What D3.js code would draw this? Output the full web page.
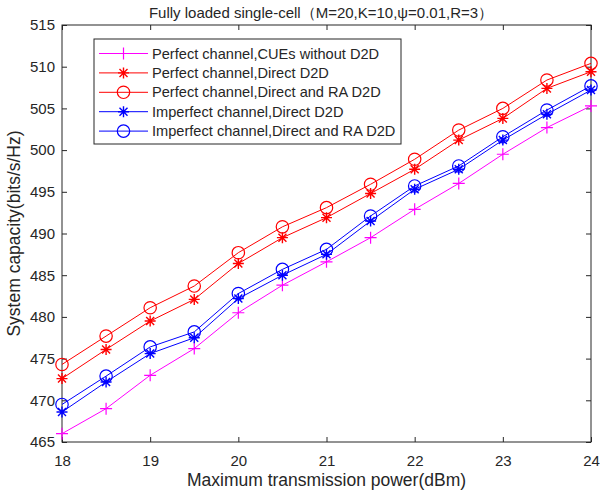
<!DOCTYPE html>
<html>
<head>
<meta charset="utf-8">
<script src="https://cdn.jsdelivr.net/npm/d3@7"></script>
<style>
  body { margin: 0; background: #fff; }
  text { font-family: "Liberation Sans", Arial, sans-serif; fill: #262626; }
</style>
</head>
<body>
<svg id="chart" width="600" height="498"></svg>
<script>
const powers = [18, 18.5, 19, 19.5, 20, 20.5, 21, 21.5, 22, 22.5, 23, 23.5, 24];
const x_ticks = [18, 19, 20, 21, 22, 23, 24];
const y_ticks = [465, 470, 475, 480, 485, 490, 495, 500, 505, 510, 515];

const perfect_no_d2d = [466.0, 469.0, 473.0, 476.2, 480.5, 483.8, 486.6, 489.5, 492.9, 496.0, 499.5, 502.7, 505.3];
const perfect_direct = [472.6, 476.1, 479.5, 482.1, 486.4, 489.5, 491.9, 494.8, 497.7, 501.2, 503.8, 507.4, 509.4];
const perfect_direct_ra = [474.3, 477.7, 481.1, 483.7, 487.7, 490.8, 493.1, 495.9, 498.9, 502.4, 505.0, 508.4, 510.4];
const imperfect_direct = [468.6, 472.2, 475.6, 477.5, 482.2, 485.0, 487.5, 491.5, 495.3, 497.7, 501.2, 504.3, 507.2];
const imperfect_direct_ra = [469.5, 472.9, 476.4, 478.2, 482.8, 485.7, 488.1, 492.1, 495.7, 498.1, 501.6, 504.8, 507.7];

const series = [
    {name: 'Perfect channel,CUEs without D2D', color: '#ff00ff', marker: 'plus', values: perfect_no_d2d},
    {name: 'Perfect channel,Direct D2D', color: '#ff0000', marker: 'star', values: perfect_direct},
    {name: 'Perfect channel,Direct and RA D2D', color: '#ff0000', marker: 'circle', values: perfect_direct_ra},
    {name: 'Imperfect channel,Direct D2D', color: '#0000ff', marker: 'star', values: imperfect_direct},
    {name: 'Imperfect channel,Direct and RA D2D', color: '#0000ff', marker: 'circle', values: imperfect_direct_ra}
];

const svg = d3.select('#chart');
const margin = {top: 25, right: 9, bottom: 56, left: 62};
const width = 600 - margin.left - margin.right;
const height = 498 - margin.top - margin.bottom;

const x = d3.scaleLinear().domain([18, 24]).range([0, width]);
const y = d3.scaleLinear().domain([465, 515]).range([height, 0]);

const g = svg.append('g').attr('transform', 'translate(' + margin.left + ',' + margin.top + ')');

// box axes with inward ticks
const axis_color = '#262626';
function style_axis(sel, show_labels) {
    sel.select('.domain').remove();
    sel.selectAll('.tick line').attr('stroke', axis_color).attr('stroke-width', 1);
    sel.selectAll('.tick text').style('font-size', '15px').attr('fill', axis_color);
    if (!show_labels) sel.selectAll('.tick text').remove();
}
g.append('g').attr('transform', 'translate(0,' + height + ')')
    .call(d3.axisBottom(x).tickValues(x_ticks).tickSize(-5).tickPadding(13).tickFormat(d3.format('d')))
    .call(s => style_axis(s, true));
g.append('g')
    .call(d3.axisTop(x).tickValues(x_ticks).tickSize(-5))
    .call(s => style_axis(s, false));
g.append('g')
    .call(d3.axisLeft(y).tickValues(y_ticks).tickSize(-5).tickPadding(7).tickFormat(d3.format('d')))
    .call(s => style_axis(s, true));
g.append('g').attr('transform', 'translate(' + width + ',0)')
    .call(d3.axisRight(y).tickValues(y_ticks).tickSize(-5))
    .call(s => style_axis(s, false));

g.append('rect')
    .attr('width', width).attr('height', height)
    .attr('fill', 'none').attr('stroke', axis_color).attr('stroke-width', 1);

// markers
function draw_marker(sel, type, color) {
    if (type === 'plus') {
        sel.append('path').attr('d', 'M-6,0H6M0,-6V6')
            .attr('stroke', color).attr('stroke-width', 1.2).attr('fill', 'none');
    } else if (type === 'star') {
        sel.append('path').attr('d', 'M-5.5,0H5.5M0,-5.5V5.5M-4,-4L4,4M-4,4L4,-4')
            .attr('stroke', color).attr('stroke-width', 1.4).attr('fill', 'none');
    } else {
        sel.append('circle').attr('r', 6.2)
            .attr('stroke', color).attr('stroke-width', 1.2).attr('fill', 'none');
    }
}

const line = d3.line().x((d, i) => x(powers[i])).y(d => y(d));

series.forEach((s) => {
    g.append('path')
        .datum(s.values)
        .attr('fill', 'none')
        .attr('stroke', s.color)
        .attr('stroke-width', 1)
        .attr('d', line);
    s.values.forEach((v, i) => {
        const m = g.append('g').attr('transform', 'translate(' + x(powers[i]) + ',' + y(v) + ')');
        draw_marker(m, s.marker, s.color);
    });
});

// legend
const legend = svg.append('g').attr('transform', 'translate(94,39)');
legend.append('rect')
    .attr('width', 307).attr('height', 105)
    .attr('fill', '#fff').attr('stroke', axis_color).attr('stroke-width', 1);
series.forEach((s, i) => {
    const row = legend.append('g').attr('transform', 'translate(0,' + (14.5 + i * 19.4) + ')');
    row.append('line').attr('x1', 5).attr('x2', 54)
        .attr('stroke', s.color).attr('stroke-width', 1);
    draw_marker(row.append('g').attr('transform', 'translate(29.5,0)'), s.marker, s.color);
    row.append('text').attr('x', 58).attr('dy', '0.35em')
        .style('font-size', '14.6px').attr('fill', '#000').text(s.name);
});

// title and axis labels
svg.append('text')
    .attr('x', 321).attr('y', 18)
    .style('text-anchor', 'middle').style('font-size', '15px').attr('fill', '#000')
    .text('Fully loaded single-cell（M=20,K=10,ψ=0.01,R=3）');

svg.append('text')
    .attr('x', margin.left + width / 2).attr('y', 486)
    .style('text-anchor', 'middle').style('font-size', '17.5px')
    .text('Maximum transmission power(dBm)');

svg.append('text')
    .attr('transform', 'translate(20,' + (margin.top + height / 2) + ') rotate(-90)')
    .style('text-anchor', 'middle').style('font-size', '17.5px')
    .text('System capacity(bits/s/Hz)');
</script>
</body>
</html>
